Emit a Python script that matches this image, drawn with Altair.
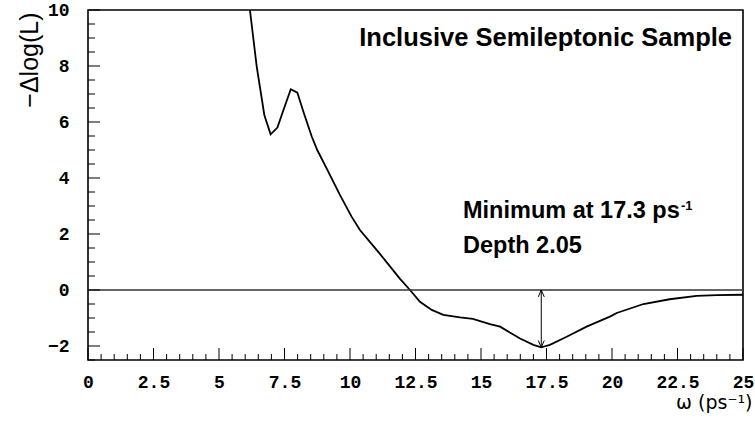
import altair as alt
import pandas as pd

# Likelihood scan: -Δlog(L) versus oscillation frequency ω (ps^-1)
omega = [6.00, 6.18, 6.44, 6.56, 6.73, 6.97, 7.23, 7.46, 7.74, 7.99, 8.24, 8.54,
         8.75, 9.17, 9.62, 10.06, 10.38, 11.15, 11.91, 12.29, 12.67, 13.12, 13.56,
         14.20, 14.69, 15.34, 15.73, 16.10, 16.49, 17.00, 17.30, 17.63, 18.27,
         19.03, 19.92, 20.18, 21.20, 22.20, 23.23, 24.00, 25.00]
delta_logl = [11.4, 10.0, 7.98, 7.26, 6.25, 5.56, 5.80, 6.43, 7.17, 7.05, 6.31, 5.48,
              5.00, 4.23, 3.39, 2.62, 2.14, 1.28, 0.40, 0.00, -0.42, -0.71, -0.89,
              -0.98, -1.03, -1.22, -1.31, -1.52, -1.73, -1.96, -2.05, -1.96, -1.67,
              -1.31, -0.95, -0.82, -0.50, -0.33, -0.21, -0.18, -0.17]

min_omega = 17.3
depth = 2.05
zero_level = [0]

x_major = [0, 2.5, 5, 7.5, 10, 12.5, 15, 17.5, 20, 22.5, 25]
x_minor = [v / 2 for v in range(0, 51) if (v / 2) not in x_major]
y_major = [-2, 0, 2, 4, 6, 8, 10]
y_minor = [v / 2 for v in range(-5, 21) if (v / 2) not in y_major]

W, H = 655, 350
xs = alt.Scale(domain=[0, 25], nice=False, zero=False)
ys = alt.Scale(domain=[-2.5, 10], nice=False, zero=False)

scan = pd.DataFrame({"omega": omega, "dll": delta_logl})

tick_label_expr = "format(datum.value, '.1~f')"

x_axis = alt.Axis(values=x_major, labelExpr=tick_label_expr, tickSize=0, domain=False,
                  grid=False, labelFlush=False, labelOverlap=False,
                  labelFont="Liberation Mono", labelFontWeight="bold",
                  labelFontSize=18, labelColor="black", labelPadding=13,
                  title="ω (ps⁻¹)", titleFont="DejaVu Sans", titleFontWeight="normal",
                  titleFontSize=19, titleColor="black", titleAlign="right",
                  titleAnchor="end", titleX=664, titleY=48, titleBaseline="alphabetic")
y_axis = alt.Axis(values=y_major, labelExpr=tick_label_expr, tickSize=0, domain=False,
                  grid=False, labelFlush=False, labelOverlap=False,
                  labelFont="Liberation Mono", labelFontWeight="bold",
                  labelFontSize=18, labelColor="black", labelPadding=19,
                  title="−Δlog(L)", titleFont="Liberation Sans", titleFontWeight="normal",
                  titleFontSize=25, titleColor="black", titleAngle=270,
                  titleAlign="right", titleBaseline="middle", titleX=-59, titleY=2)


def xq(field):
    return alt.X(field, type="quantitative", scale=xs, axis=x_axis)


def yq(field):
    return alt.Y(field, type="quantitative", scale=ys, axis=y_axis)


curve = alt.Chart(scan).mark_line(color="black", strokeWidth=1.8, clip=True).encode(
    x=xq("omega"), y=yq("dll"))

zero_line = alt.Chart(pd.DataFrame({"v": zero_level})).mark_rule(
    color="#333333", strokeWidth=1.4).encode(y=yq("v"))


def x_ticks(vals, length):
    return alt.Chart(pd.DataFrame({"t": vals})).mark_rule(color="black", strokeWidth=1).encode(
        x=xq("t"), y=alt.value(H), y2=alt.value(H - length))


def y_ticks(vals, length):
    return alt.Chart(pd.DataFrame({"t": vals})).mark_rule(color="black", strokeWidth=1).encode(
        y=yq("t"), x=alt.value(0), x2=alt.value(length))


marker = pd.DataFrame({"w": [min_omega], "top": [0.0], "bottom": [-depth]})
arrow = alt.Chart(marker).mark_rule(color="black", strokeWidth=1).encode(
    x=xq("w"), y=yq("top"), y2="bottom:Q")
head_up = alt.Chart(marker).mark_point(shape="M-1,2.3L0,0L1,2.3", filled=False,
                                        color="black", size=36, strokeWidth=1, opacity=1).encode(
    x=xq("w"), y=yq("top"))
head_down = alt.Chart(marker).mark_point(shape="M-1,-2.3L0,0L1,-2.3", filled=False,
                                          color="black", size=36, strokeWidth=1, opacity=1).encode(
    x=xq("w"), y=yq("bottom"))

label_font = "Liberation Sans"
title_txt = alt.Chart(pd.DataFrame({"s": ["Inclusive Semileptonic Sample"]})).mark_text(
    font=label_font, fontWeight="bold", fontSize=25.5, align="right", baseline="alphabetic",
    color="black").encode(text="s:N", x=alt.value(644), y=alt.value(36))
min_txt = alt.Chart(pd.DataFrame({"s": [f"Minimum at {min_omega} ps"]})).mark_text(
    font=label_font, fontWeight="bold", fontSize=23.5, align="left", baseline="alphabetic",
    color="black").encode(text="s:N", x=alt.value(375), y=alt.value(208))
sup_txt = alt.Chart(pd.DataFrame({"s": ["-1"]})).mark_text(
    font=label_font, fontWeight="bold", fontSize=13, align="left", baseline="alphabetic",
    color="black").encode(text="s:N", x=alt.value(593), y=alt.value(200))
depth_txt = alt.Chart(pd.DataFrame({"s": [f"Depth {depth}"]})).mark_text(
    font=label_font, fontWeight="bold", fontSize=23.5, align="left", baseline="alphabetic",
    color="black").encode(text="s:N", x=alt.value(375), y=alt.value(243))

chart = alt.layer(
    curve, zero_line,
    x_ticks(x_major, 12), x_ticks(x_minor, 6),
    y_ticks(y_major, 12), y_ticks(y_minor, 7),
    arrow, head_up, head_down,
    title_txt, min_txt, sup_txt, depth_txt,
).properties(
    width=W, height=H,
    autosize=alt.AutoSizeParams(type="none"),
    padding={"left": 88, "top": 10, "right": 12, "bottom": 70},
    background="white",
).configure_view(stroke="black", strokeWidth=1.6)

chart.save("out.html", embed_options={"renderer": "svg", "actions": False})
